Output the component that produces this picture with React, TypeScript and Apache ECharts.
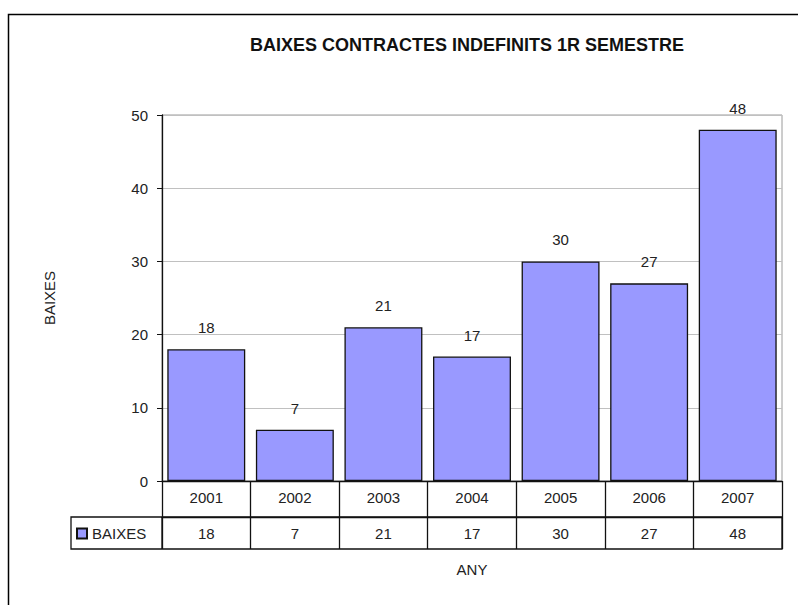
import React, { useEffect, useRef } from "react";
import * as echarts from "echarts";

const years = ["2001", "2002", "2003", "2004", "2005", "2006", "2007"];
const baixes = [18, 7, 21, 17, 30, 27, 48];
const yTicks = [0, 10, 20, 30, 40, 50];
const seriesName = "BAIXES";
const titleText = "BAIXES CONTRACTES INDEFINITS 1R SEMESTRE";
const xName = "ANY";
const yName = "BAIXES";

const FONT = "'Liberation Sans', Arial, sans-serif";
const FS = 15;

export default function App() {
  const ref = useRef<HTMLDivElement>(null);
  useEffect(() => {
    if (!ref.current) return;
    const chart = echarts.init(ref.current, null, { renderer: "svg" });
    chart.setOption({
      animation: false,
      backgroundColor: "#fff",
      textStyle: { fontFamily: FONT, color: "#000" },
      title: {
        text: titleText,
        left: 467,
        top: 36,
        textAlign: "center",
        padding: 0,
        textStyle: { fontFamily: FONT, fontSize: 18, fontWeight: "bold", color: "#111" },
      },
      legend: {
        data: [seriesName],
        left: 76,
        top: 526,
        itemWidth: 10,
        itemHeight: 10,
        itemGap: 4,
        icon: "rect",
        textStyle: { fontFamily: FONT, fontSize: FS, color: "#222" },
        padding: 0,
      },
      grid: {
        left: 162,
        right: 16,
        top: 115,
        bottom: 124,
        show: true,
        borderColor: "#9a9a9a",
        borderWidth: 1,
      },
      xAxis: [
        {
          type: "category",
          data: years,
          position: "bottom",
          axisLine: { show: true, lineStyle: { color: "#111", width: 1.3 } },
          axisTick: { show: true, length: 68, lineStyle: { color: "#111", width: 1.3 } },
          axisLabel: { margin: 9, fontSize: FS, color: "#222", fontFamily: FONT },
          splitLine: { show: false },
        },
        {
          type: "category",
          data: baixes.map(String),
          position: "bottom",
          offset: 36,
          name: xName,
          nameLocation: "middle",
          nameGap: 45,
          nameTextStyle: { fontFamily: FONT, fontSize: FS, color: "#222" },
          axisLine: { show: true, lineStyle: { color: "#111", width: 1.3 } },
          axisTick: { show: false },
          axisLabel: { margin: 9, fontSize: FS, color: "#222", fontFamily: FONT },
          splitLine: { show: false },
        },
      ],
      yAxis: {
        type: "value",
        min: yTicks[0],
        max: yTicks[yTicks.length - 1],
        interval: 10,
        name: yName,
        nameLocation: "middle",
        nameGap: 105,
        nameTextStyle: { fontFamily: FONT, fontSize: FS, color: "#222" },
        axisLine: { show: true, lineStyle: { color: "#111", width: 1.3 } },
        axisTick: { show: true, length: 5, lineStyle: { color: "#111" } },
        axisLabel: { margin: 14, fontSize: FS, color: "#222", fontFamily: FONT },
        splitLine: { show: true, lineStyle: { color: "#c0c0c0", width: 1 } },
      },
      series: [
        {
          name: seriesName,
          type: "bar",
          data: baixes,
          barCategoryGap: "12%",
          itemStyle: { color: "#9999ff", borderColor: "#111", borderWidth: 1.3 },
          label: {
            show: true,
            position: "top",
            distance: 14,
            fontSize: FS,
            color: "#222",
            fontFamily: FONT,
          },
        },
      ],
      graphic: [
        {
          type: "rect",
          left: 6,
          top: 12,
          shape: { x: 0, y: 0, width: 820, height: 620 },
          style: { fill: "none", stroke: "#000", lineWidth: 1.5 },
          silent: true,
        },
        {
          type: "rect",
          shape: { x: 71, y: 517, width: 711, height: 32 },
          style: { fill: "none", stroke: "#111", lineWidth: 1.3 },
          silent: true,
        },
        {
          type: "line",
          shape: { x1: 162, y1: 517, x2: 162, y2: 549 },
          style: { stroke: "#111", lineWidth: 1.3 },
          silent: true,
        },
      ],
    });
    return () => chart.dispose();
  }, []);
  return (
    <div
      ref={ref}
      style={{ position: "fixed", left: 0, top: 0, width: 798, height: 605 }}
    />
  );
}
